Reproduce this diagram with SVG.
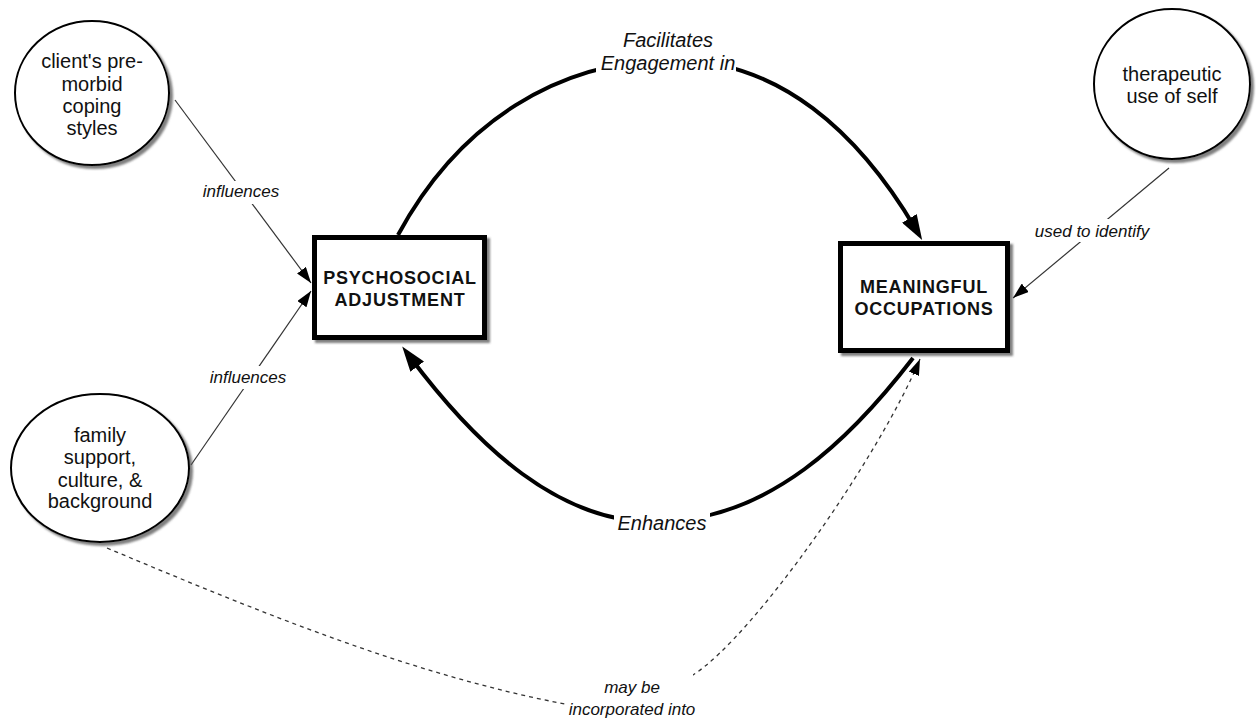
<svg xmlns="http://www.w3.org/2000/svg" width="1257" height="721" viewBox="0 0 1257 721">
<style>
  text{font-family:"Liberation Sans",Arial,Helvetica,sans-serif;fill:#111;text-anchor:middle}
  .nt{font-size:20px}
  .bt{font-size:18px;font-weight:bold;letter-spacing:0.8px}
  .lb{font-size:17px;font-style:italic}
  .lbl{font-size:20px;font-style:italic}
  .circle{fill:#fff;stroke:#000;stroke-width:2;filter:url(#shadow)}
  .box{fill:#fff;stroke:#000;stroke-width:5;filter:url(#shadow)}
  .thin{fill:none;stroke:#333;stroke-width:1.2}
  .thick{fill:none;stroke:#000;stroke-width:4}
  .dashed{fill:none;stroke:#333;stroke-width:1.3;stroke-dasharray:4 4}
</style>
<defs>
  <filter id="shadow" x="-10%" y="-10%" width="130%" height="130%">
    <feDropShadow dx="3" dy="3" stdDeviation="1" flood-color="#555" flood-opacity="0.75"/>
  </filter>
  <marker id="arrThin" markerUnits="userSpaceOnUse" markerWidth="16" markerHeight="11" viewBox="0 0 16 11" refX="16" refY="5.5" orient="auto">
    <path d="M0,0 L16,5.5 L0,11 z" fill="#000"/>
  </marker>
  <marker id="arrThick" markerUnits="userSpaceOnUse" markerWidth="25" markerHeight="17" viewBox="0 0 25 17" refX="12" refY="8.5" orient="auto">
    <path d="M0,0 L25,8.5 L0,17 z" fill="#000"/>
  </marker>
  <mask id="gaps" maskUnits="userSpaceOnUse" x="0" y="0" width="1257" height="721">
    <rect x="0" y="0" width="1257" height="721" fill="#fff"/>
    <rect x="200" y="181" width="83" height="23" fill="#000"/>
    <rect x="207" y="366" width="83" height="23" fill="#000"/>
    <rect x="1032" y="219" width="120" height="23" fill="#000"/>
    <rect x="596" y="28" width="140" height="48" fill="#000"/>
    <rect x="614" y="508" width="96" height="26" fill="#000"/>
    <rect x="566" y="674" width="127" height="47" fill="#000"/>
  </mask>
</defs>

<g id="connectors" mask="url(#gaps)">
  <path id="c-influences-1" class="thin" d="M175,100 L311,283" marker-end="url(#arrThin)"/>
  <path id="c-influences-2" class="thin" d="M191,465 L311,291" marker-end="url(#arrThin)"/>
  <path id="c-used-to-identify" class="thin" d="M1169,168 L1013,298" marker-end="url(#arrThin)"/>
  <path id="c-facilitates" class="thick" d="M398,235 C460,120 560,62 668,60 C780,58 860,135 915.5,228.7" marker-end="url(#arrThick)"/>
  <path id="c-enhances" class="thick" d="M913,358 C850,440 770,518 662,522 C560,526 476,445 410,357" marker-end="url(#arrThick)"/>
  <path id="c-incorporated" class="dashed" d="M107,548 C257,611 412,675 565,704 C610,708 660,690 693,675 C755,635 880,455 920,359" marker-end="url(#arrThin)"/>
</g>

<g id="labels">
  <text class="lb" x="241" y="197">influences</text>
  <text class="lb" x="248" y="383">influences</text>
  <text class="lb" x="1092" y="237">used to identify</text>
  <text class="lbl" x="668" y="47">Facilitates</text>
  <text class="lbl" x="668" y="70">Engagement in</text>
  <text class="lbl" x="662" y="530">Enhances</text>
  <text class="lb" x="632" y="693">may be</text>
  <text class="lb" x="632" y="715">incorporated into</text>
</g>

<g id="node-coping">
  <ellipse class="circle" cx="92" cy="93" rx="77" ry="72"/>
  <text class="nt" x="92" y="68">client's pre-</text>
  <text class="nt" x="92" y="91">morbid</text>
  <text class="nt" x="92" y="113">coping</text>
  <text class="nt" x="92" y="135">styles</text>
</g>

<g id="node-family">
  <ellipse class="circle" cx="100" cy="468" rx="89" ry="74"/>
  <text class="nt" x="100" y="442">family</text>
  <text class="nt" x="100" y="464">support,</text>
  <text class="nt" x="100" y="487">culture, &amp;</text>
  <text class="nt" x="100" y="508">background</text>
</g>

<g id="node-therapeutic">
  <ellipse class="circle" cx="1172" cy="84" rx="78" ry="75"/>
  <text class="nt" x="1172" y="81">therapeutic</text>
  <text class="nt" x="1172" y="103">use of self</text>
</g>

<g id="node-psychosocial">
  <rect class="box" x="314.5" y="237.5" width="170" height="100"/>
  <text class="bt" x="400" y="284">PSYCHOSOCIAL</text>
  <text class="bt" x="400" y="306">ADJUSTMENT</text>
</g>

<g id="node-meaningful">
  <rect class="box" x="840.5" y="243.5" width="167" height="107"/>
  <text class="bt" x="924" y="293">MEANINGFUL</text>
  <text class="bt" x="924" y="315">OCCUPATIONS</text>
</g>
</svg>
